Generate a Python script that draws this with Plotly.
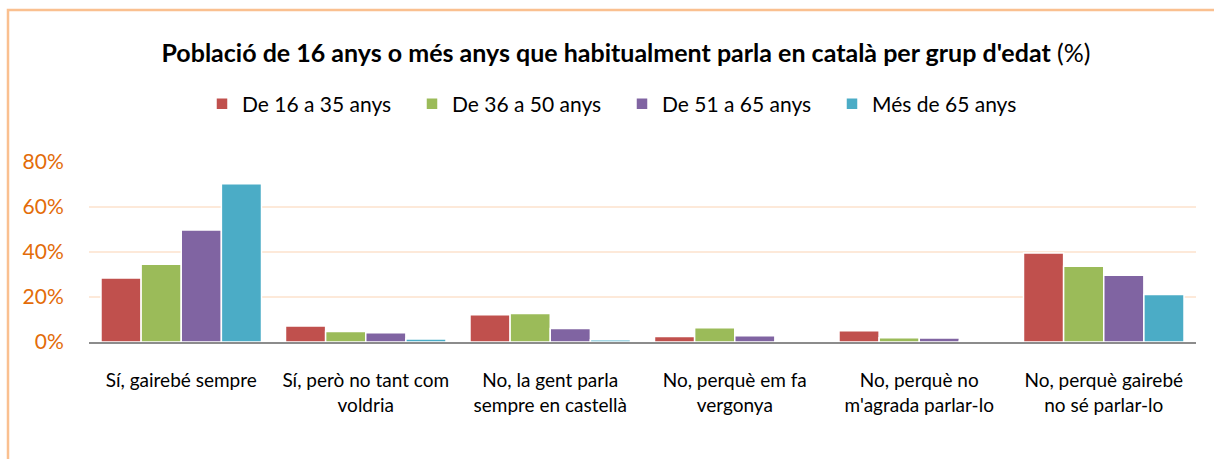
import plotly.graph_objects as go

categories = [
    "Sí, gairebé sempre",
    "Sí, però no tant com<br>voldria",
    "No, la gent parla<br>sempre en castellà",
    "No, perquè em fa<br>vergonya",
    "No, perquè no<br>m'agrada parlar-lo",
    "No, perquè gairebé<br>no sé parlar-lo",
]
series_names = ["De 16 a 35 anys", "De 36 a 50 anys", "De 51 a 65 anys", "Més de 65 anys"]
de_16_35 = [28.4, 7.1, 12.1, 2.4, 5.0, 39.6]
de_36_50 = [34.6, 4.7, 12.7, 6.3, 1.9, 33.7]
de_51_65 = [49.8, 4.1, 6.0, 2.8, 1.8, 29.7]
mes_65 = [70.3, 1.3, 1.0, 0.2, 0.7, 21.1]
colors = ["#C0504D", "#9BBB59", "#8064A2", "#4BACC6"]
y_ticks = [0, 20, 40, 60, 80]
y_tick_labels = ["0%", "20%", "40%", "60%", "80%"]

W, H = 1214, 459
L, R, T, B = 89, 18, 162, 117
PW, PH = W - L - R, H - T - B

def px_x(x):
    return (x - L) / PW

def px_y(y):
    return (H - B - y) / PH

fig = go.Figure()
for name, vals, col in zip(series_names, [de_16_35, de_36_50, de_51_65, mes_65], colors):
    fig.add_trace(go.Bar(
        x=categories, y=vals, name=name,
        marker=dict(color=col, line=dict(color="white", width=1.5)),
    ))

fig.update_layout(
    width=W, height=H,
    margin=dict(l=L, r=R, t=T, b=B),
    paper_bgcolor="white", plot_bgcolor="white",
    font=dict(family="Lato, 'Open Sans', sans-serif", color="#000000"),
    barmode="group", bargap=0.13, bargroupgap=0.0,
    title=dict(
        text="<b>Població de 16 anys o més anys que habitualment parla en català per grup d'edat</b> (%)",
        x=626 / W, xanchor="center", xref="container",
        y=1 - 53 / H, yanchor="middle", yref="container",
        font=dict(size=25, color="#000000"),
    ),
    legend=dict(
        orientation="h", x=622 / W, xanchor="center", xref="container",
        y=1 - 104 / H, yanchor="middle", yref="container",
        font=dict(size=21, color="#000000"),
        itemwidth=30, traceorder="normal",
        entrywidth=165, entrywidthmode="pixels",
    ),
    showlegend=True,
)
fig.update_xaxes(
    showgrid=False, showline=True, linecolor="#8C8C8C", linewidth=2,
    ticks="outside", ticklen=20, tickcolor="rgba(0,0,0,0)",
    tickfont=dict(size=19, color="#000000"), tickangle=0,
)
fig.update_yaxes(
    range=[0, 80], tickvals=y_ticks, ticktext=y_tick_labels,
    showgrid=True, gridcolor="#FDE9D9", gridwidth=2,
    zeroline=False, showline=False,
    ticks="outside", ticklen=20, tickcolor="rgba(0,0,0,0)",
    tickfont=dict(size=21, color="#E36C09"),
)
# chart border (light orange)
fig.add_shape(type="rect", xref="paper", yref="paper",
              x0=px_x(8), x1=px_x(1225), y0=px_y(470), y1=px_y(10),
              line=dict(color="#FAC090", width=2.5), fillcolor="rgba(0,0,0,0)", layer="below")

fig.write_html("out.html", config={"displayModeBar": False},
               post_script="document.body.style.margin='0';document.body.style.overflow='hidden';")
